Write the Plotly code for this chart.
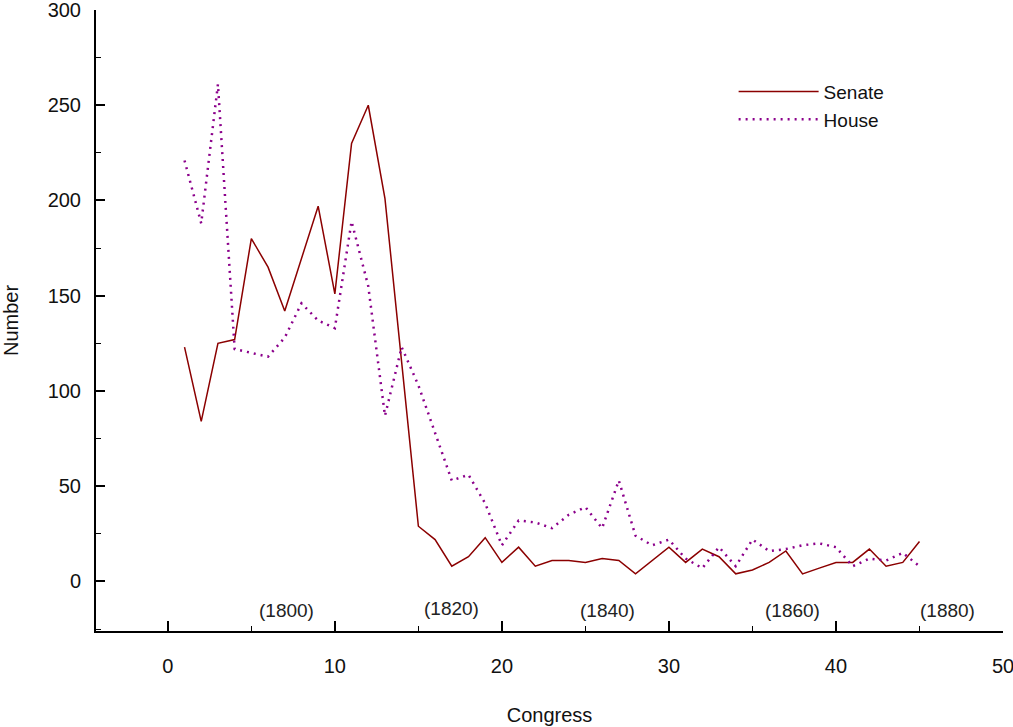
import plotly.graph_objects as go

congress = list(range(1, 46))
senate = [123, 84, 125, 127, 180, 165, 142, 170, 197, 151, 230, 250, 201, 115, 29,
          22, 8, 13, 23, 10, 18, 8, 11, 11, 10, 12, 11, 4, 11, 18,
          10, 17, 13, 4, 6, 10, 16, 4, 7, 10, 10, 17, 8, 10, 21]
house = [221, 188, 261, 122, 120, 118, 128, 146, 137, 133, 189, 155, 87, 123, 103,
         78, 53, 56, 41, 19, 32, 31, 28, 35, 39, 28, 53, 24, 19, 22,
         12, 7, 18, 8, 22, 16, 17, 19, 20, 18, 8, 12, 11, 15, 8]

year_labels = ["(1800)", "(1820)", "(1840)", "(1860)", "(1880)"]
year_x = [7.1, 17.0, 26.3, 37.4, 46.7]
year_y = [-15, -14, -15, -15, -15]

x_ticks = [0, 10, 20, 30, 40, 50]
y_ticks = [0, 50, 100, 150, 200, 250, 300]

FONT = "Liberation Sans, Arial, sans-serif"

fig = go.Figure()
fig.add_trace(go.Scatter(x=congress, y=senate, mode="lines", name="Senate",
                         line=dict(color="#8B0000", width=1.5)))
fig.add_trace(go.Scatter(x=congress, y=house, mode="lines", name="House",
                         line=dict(color="#8B008B", width=2.5, dash="2px,5px")))

for lab, xx, yy in zip(year_labels, year_x, year_y):
    fig.add_annotation(x=xx, y=yy, text=lab, showarrow=False,
                       font=dict(family=FONT, size=19, color="#222"))

fig.update_layout(
    width=1013, height=727,
    margin=dict(l=96, r=10, t=10, b=96, autoexpand=False),
    paper_bgcolor="white", plot_bgcolor="white",
    font=dict(family=FONT, size=20, color="#111"),
    showlegend=True,
    legend=dict(x=0.703, y=0.899, xanchor="left", yanchor="top",
                bgcolor="rgba(0,0,0,0)", font=dict(size=19, family=FONT),
                itemwidth=80, tracegroupgap=0),
    xaxis=dict(range=[-4.3, 50], tickvals=x_ticks, showgrid=False, zeroline=False,
               showline=True, linecolor="black", linewidth=2, automargin=False,
               ticks="inside", ticklen=10, tickwidth=1.5, tickcolor="black",
               ticklabelstandoff=16, ticklabeloverflow="allow",
               minor=dict(dtick=5, tick0=0, ticks="inside", ticklen=5, tickcolor="black", tickwidth=1),
               title=dict(text="Congress", standoff=32, font=dict(size=20))),
    yaxis=dict(range=[-26, 300], tickvals=y_ticks, showgrid=False, zeroline=False,
               showline=True, linecolor="black", linewidth=2, automargin=False,
               ticks="inside", ticklen=9, tickwidth=1.5, tickcolor="black",
               ticklabelstandoff=9, ticklabeloverflow="allow",
               minor=dict(dtick=25, tick0=0, ticks="inside", ticklen=5, tickcolor="black", tickwidth=1),
               title=dict(text="Number", standoff=24, font=dict(size=20))),
)

fig.write_html("out.html")
